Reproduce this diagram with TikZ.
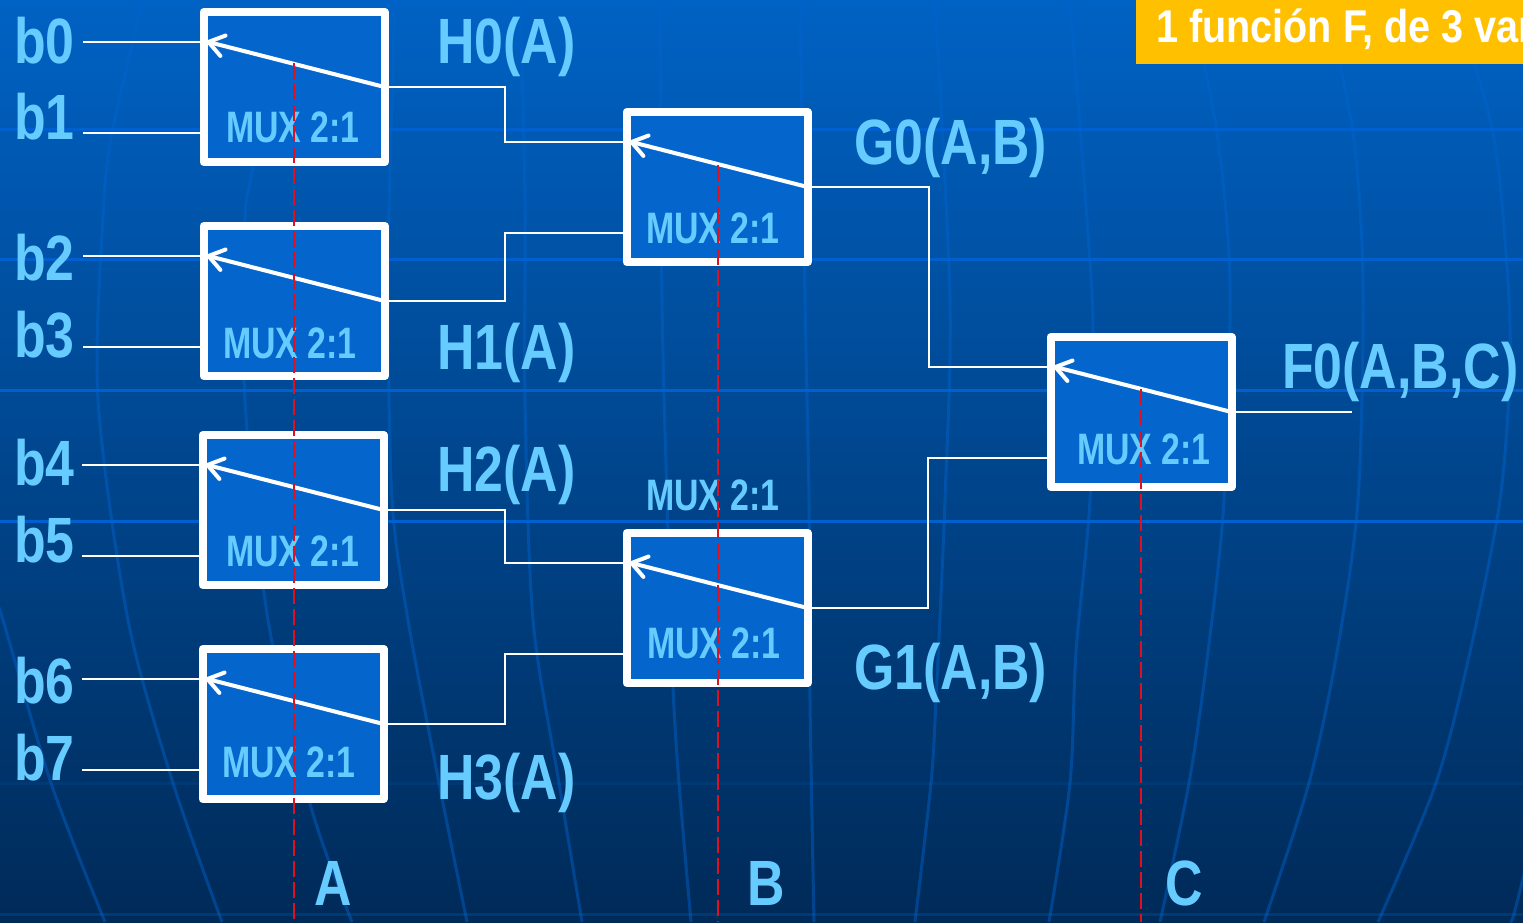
\documentclass[tikz,border=0pt]{standalone}
\usepackage{fontspec}
\setmainfont[FakeStretch=0.81]{Liberation Sans}
\newfontfamily\muxfont[FakeStretch=0.77]{Liberation Sans}
\newfontfamily\titlefont[FakeStretch=0.86]{Liberation Sans}
\usetikzlibrary{arrows.meta}
\definecolor{skytop}{HTML}{0062C4}
\definecolor{skybot}{HTML}{002A58}
\definecolor{gridblue}{HTML}{0064D0}
\definecolor{muxfill}{HTML}{0466CC}
\definecolor{labelblue}{HTML}{66CCFF}
\definecolor{titlegold}{HTML}{FFC000}
\definecolor{selred}{HTML}{E0101E}

\begin{document}
\begin{tikzpicture}[
    x=1pt, y=-1pt,
    globe/.style={gridblue, line width=3pt, opacity=.45},
    muxbox/.style={draw=white, fill=muxfill, line width=8pt, line join=round, inner sep=0pt, outer sep=0pt, minimum width=181pt, minimum height=150pt},
    wire/.style={white, line width=2pt},
    switch/.style={white, line width=4pt, -{Straight Barb[length=15pt,width=21pt,round]}},
    selline/.style={selred, line width=2pt, dash pattern=on 16pt off 5pt},
    big_label/.style={labelblue, anchor=base west, inner sep=0pt, font=\fontsize{64}{70}\selectfont\bfseries},
    mux_label/.style={labelblue, anchor=base west, inner sep=0pt, font=\muxfont\fontsize{44}{50}\selectfont\bfseries},
    title_label/.style={white, anchor=base west, inner sep=0pt, font=\titlefont\fontsize{46}{50}\selectfont\bfseries}
]
    \useasboundingbox (0,0) rectangle (1523,922);
    \clip (0,0) rectangle (1523,922);
    % Fondo
    \fill[top color=skytop, bottom color=skybot] (0,0) rectangle (1523,922);
    \foreach \yy/\col in {129/0060D0, 259/0060D0, 390/0060D0, 521/0060D0, 652/003A78, 783/003A74, 914/003A74} {
        \definecolor{gridline}{HTML}{\col}
        \draw[gridline, line width=3pt] (0,\yy) -- (1523,\yy);
    }
    \draw[globe] plot[smooth] coordinates {(-5,600) (3,620) (51,783) (105,922)};
    \draw[globe] plot[smooth] coordinates {(143,0) (112,133) (103,217) (98,400) (128,620) (173,783) (222,922)};
    \draw[globe] plot[smooth] coordinates {(280,0) (253,167) (245,220) (245,400) (268,620) (311,807) (352,922)};
    \draw[globe] plot[smooth] coordinates {(395,0) (390,167) (388,300) (392,500) (408,620) (439,783) (467,922)};
    \draw[globe] plot[smooth] coordinates {(520,0) (525,200) (525,400) (533,620) (559,783) (582,922)};
    \draw[globe] plot[smooth] coordinates {(660,0) (662,300) (667,500) (673,687) (679,783) (691,922)};
    \draw[globe] plot[smooth] coordinates {(800,0) (805,300) (809,500) (810,700) (814,922)};
    \draw[globe] plot[smooth] coordinates {(935,0) (950,300) (945,500) (936,700) (931,783) (915,922)};
    \draw[globe] plot[smooth] coordinates {(1070,0) (1088,233) (1093,333) (1090,500) (1076,652) (1070,783) (1049,922)};
    \draw[globe] plot[smooth] coordinates {(1190,0) (1217,133) (1230,283) (1224,500) (1208,652) (1189,783) (1160,922)};
    \draw[globe] plot[smooth] coordinates {(1325,0) (1353,133) (1363,283) (1358,500) (1337,652) (1309,783) (1264,922)};
    \draw[globe] plot[smooth] coordinates {(1455,0) (1493,133) (1507,267) (1510,367) (1500,500) (1470,652) (1436,783) (1378,922)};
    \draw[globe] plot[smooth] coordinates {(1530,850) (1514,914) (1510,922)};
    % Cables de entrada y bus
    \coordinate (busH) at (505,0);
    \coordinate (busGa) at (929,0);
    \coordinate (busGb) at (928,0);
    \coordinate (outF) at (1352,412);
    % Multiplexores
    \foreach \name/\xx/\yy in {a0/294/87, a1/294/301, a2/293/510, a3/293/724, b0/717/187, b1/717/608, c0/1141/412} {
        \node[muxbox] (\name) at (\xx,\yy) {};
        \coordinate (\name top) at ([yshift=45.5pt]\name.west);
        \coordinate (\name low) at ([yshift=-45.5pt]\name.west);
    }
    \foreach \i/\mux/\xx in {0/a0top/83, 1/a0low/83, 2/a1top/83, 3/a1low/83, 4/a2top/82, 5/a2low/82, 6/a3top/82, 7/a3low/82} {
        \coordinate (in\i) at (\xx,0);
        \draw[wire] (in\i |- \mux) -- (\mux);
    }
    \draw[wire] (a0.east) -- (busH |- a0.east) -- (busH |- b0top) -- (b0top);
    \draw[wire] (a1.east) -- (busH |- a1.east) -- (busH |- b0low) -- (b0low);
    \draw[wire] (a2.east) -- (busH |- a2.east) -- (busH |- b1top) -- (b1top);
    \draw[wire] (a3.east) -- (busH |- a3.east) -- (busH |- b1low) -- (b1low);
    \draw[wire] (b0.east) -- (busGa |- b0.east) -- (busGa |- c0top) -- (c0top);
    \draw[wire] (b1.east) -- (busGb |- b1.east) -- (busGb |- c0low) -- (c0low);
    \draw[wire] (c0.east) -- (outF);
    % Conmutadores
    \foreach \name in {a0, a1, a2, a3, b0, b1, c0}
        \draw[switch] (\name.east) -- ([xshift=3pt]\name top);
    % Textos
    \foreach \i/\yy in {0/63, 1/139, 2/280, 3/357, 4/485, 5/562, 6/703, 7/780}
        \node[big_label] (b\i) at (14,\yy) {b\i};
    \node[big_label] (h0) at (437,63) {H0(A)};
    \node[big_label] (h1) at (437,369) {H1(A)};
    \node[big_label] (h2) at (437,491) {H2(A)};
    \node[big_label] (h3) at (437,799) {H3(A)};
    \node[big_label] (g0) at (854,164) {G0(A,B)};
    \node[big_label] (g1) at (854,689) {G1(A,B)};
    \node[big_label] (f0) at (1282,388) {F0(A,B,C)};
    \node[big_label] (la) at (314,905) {A};
    \node[big_label] (lb) at (747,905) {B};
    \node[big_label] (lc) at (1165,905) {C};
    \foreach \i/\xx/\yy in {1/226/142, 2/223/358, 3/226/566, 4/222/777, 5/646/243, 6/646/510, 7/647/658, 8/1077/464}
        \node[mux_label] (m\i) at (\xx,\yy) {MUX 2:1};
    % Titulo
    \node[fill=titlegold, anchor=north west, inner sep=0pt, minimum width=387pt, minimum height=64pt] (bar) at (1136,0) {};
    \node[title_label] (title) at (1156,42) {1 función F, de 3 var};
    % Lineas de seleccion
    \coordinate (selA) at (294,922);
    \coordinate (selB) at (718,922);
    \coordinate (selC) at (1141,922);
    \draw[selline] (294,63) -- (selA);
    \draw[selline] (718,165) -- (selB);
    \draw[selline] (1141,389) -- (selC);
\end{tikzpicture}
\end{document}
